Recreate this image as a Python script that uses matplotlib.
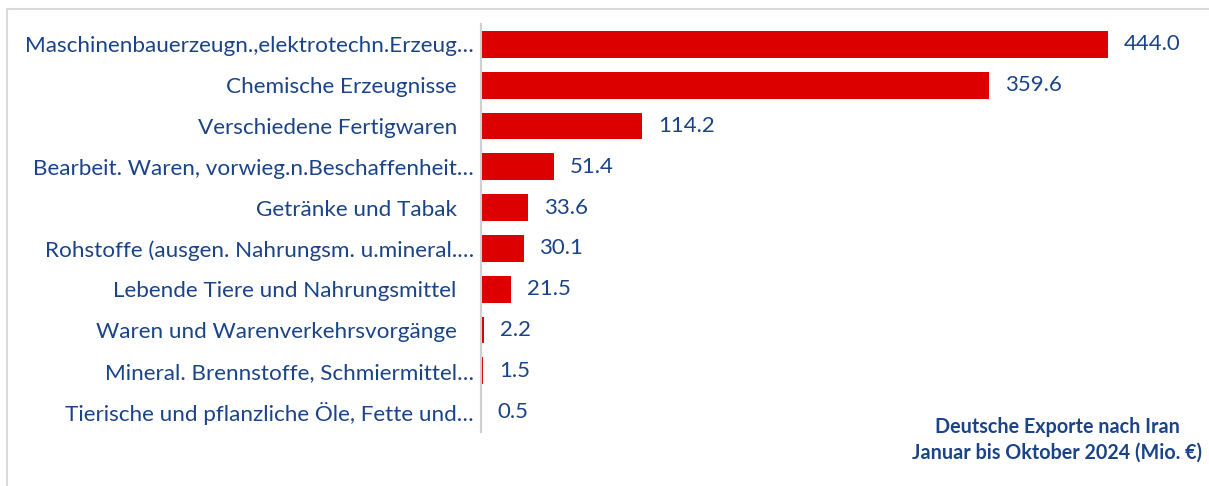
import matplotlib
matplotlib.use("Agg")
import matplotlib.pyplot as plt
from matplotlib.patches import Rectangle

categories = [
    "Maschinenbauerzeugn.,elektrotechn.Erzeug…",
    "Chemische Erzeugnisse",
    "Verschiedene Fertigwaren",
    "Bearbeit. Waren, vorwieg.n.Beschaffenheit…",
    "Getränke und Tabak",
    "Rohstoffe (ausgen. Nahrungsm. u.mineral.…",
    "Lebende Tiere und Nahrungsmittel",
    "Waren und Warenverkehrsvorgänge",
    "Mineral. Brennstoffe, Schmiermittel…",
    "Tierische und pflanzliche Öle, Fette und…",
]
values = [444.0, 359.6, 114.2, 51.4, 33.6, 30.1, 21.5, 2.2, 1.5, 0.5]
value_labels = ["444.0", "359.6", "114.2", "51.4", "33.6", "30.1", "21.5", "2.2", "1.5", "0.5"]

TXT = "#1B4488"
RED = "#DD0000"
FONT = ["Lato", "DejaVu Sans"]
plt.rcParams["font.family"] = FONT

W, H = 1209, 486
fig = plt.figure(figsize=(W / 100, H / 100), dpi=100)
fig.patches.append(Rectangle((7 / W, -0.1), 1.2, 1.1 - 9 / H, transform=fig.transFigure,
                             fill=False, edgecolor="#D9D9D9", linewidth=1.5))

ax_left, ax_right = 481, 1209
ax_top, ax_bottom = 24, 432
ax = fig.add_axes([ax_left / W, 1 - ax_bottom / H, (ax_right - ax_left) / W, (ax_bottom - ax_top) / H])

px_per_unit = (1108 - 481) / 444.0
ax.set_xlim(0, (ax_right - ax_left) / px_per_unit)
y = list(range(len(categories)))
ax.barh(y, values, height=0.66, color=RED)
ax.set_ylim(len(categories) - 0.5, -0.5)

ax.set_yticks(y)
labels = [c if c.endswith("…") else c + "   " for c in categories]
ax.set_yticklabels(labels, fontsize=16.2, color=TXT)
ax.tick_params(axis="y", length=0, pad=5)
ax.set_xticks([])
for s in ["top", "right", "bottom"]:
    ax.spines[s].set_visible(False)
ax.spines["left"].set_color("#D0D0D0")
ax.spines["left"].set_linewidth(1.5)

for yi, v, lab in zip(y, values, value_labels):
    ax.annotate(lab, (v, yi), xytext=(16, 0), textcoords="offset pixels",
                ha="left", va="center", fontsize=16, color=TXT)

fig.text(1057 / W, 1 - 427 / H, "Deutsche Exporte nach Iran", ha="center", va="center",
         fontsize=14.2, fontweight="bold", color=TXT)
fig.text(1057 / W, 1 - 453 / H, "Januar bis Oktober 2024 (Mio. €)", ha="center", va="center",
         fontsize=14.2, fontweight="bold", color=TXT)

fig.savefig("out.png", dpi=100)
